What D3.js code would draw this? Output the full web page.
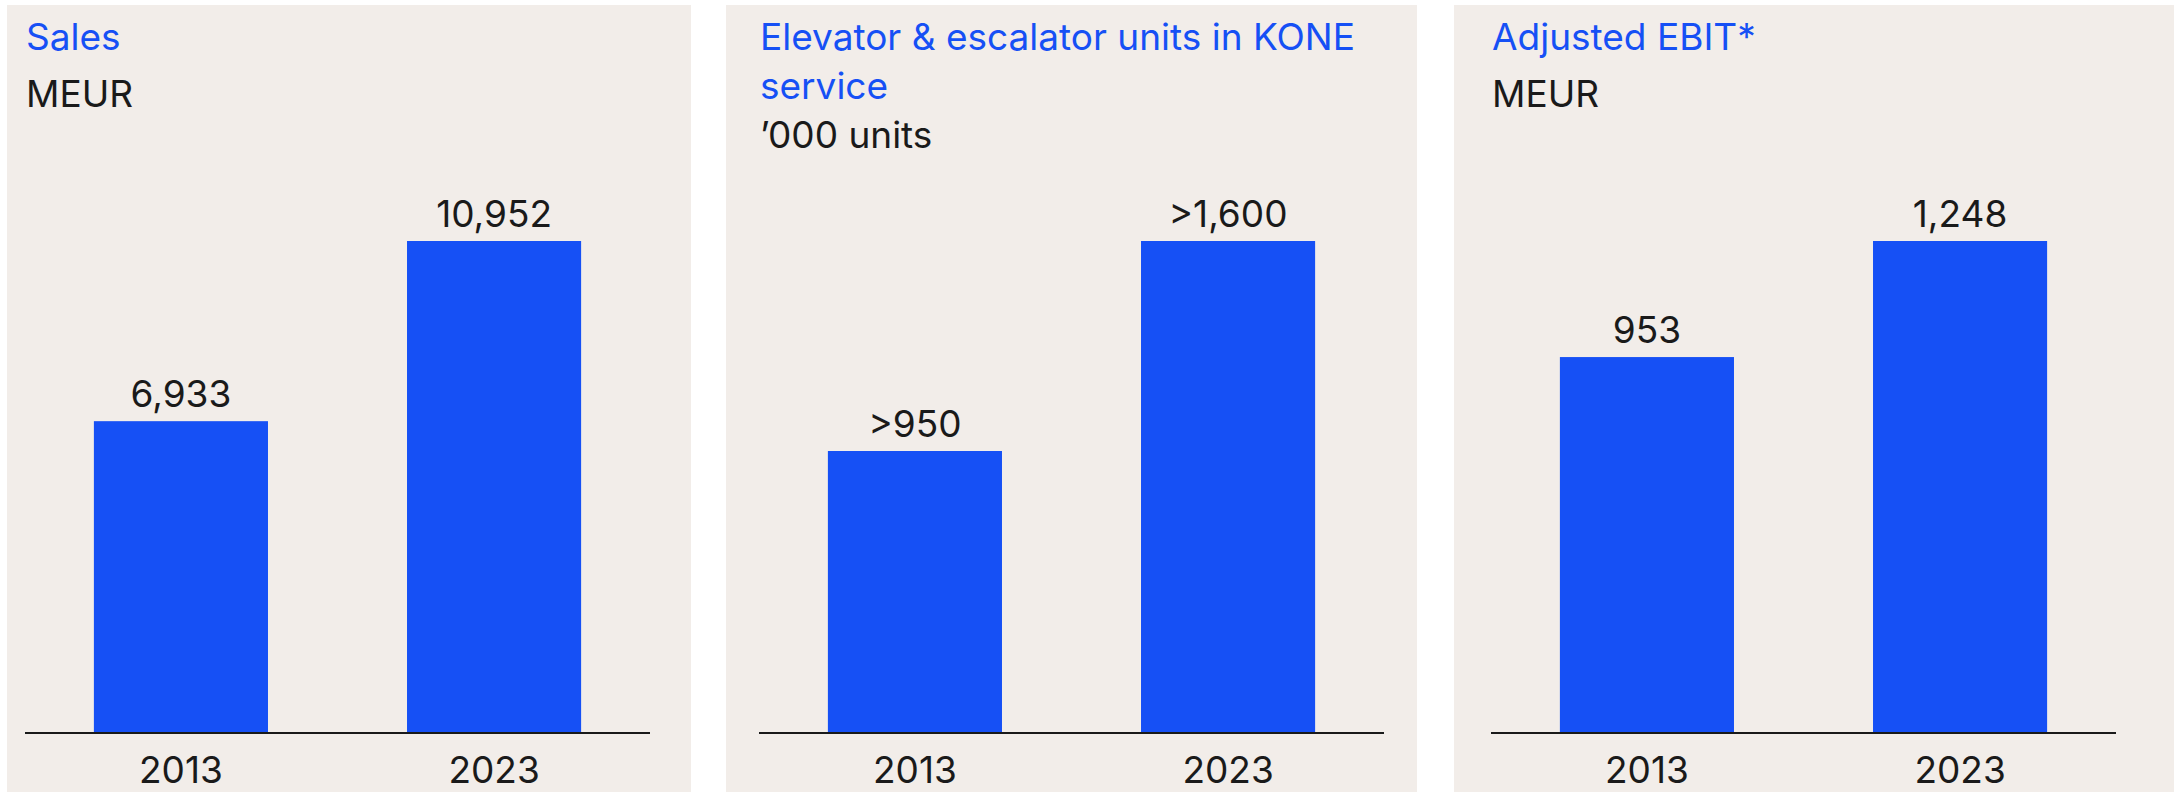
<!DOCTYPE html>
<html>
<head>
<meta charset="utf-8">
<script src="https://cdn.jsdelivr.net/npm/d3@7"></script>
<style>
  html, body { margin: 0; padding: 0; background: #ffffff; }
  svg { display: block; }
  text { font-family: Inter, "Noto Sans", sans-serif; }
</style>
</head>
<body>
<svg id="chart" width="2174" height="792"></svg>
<script>
// ---- data ----
const categories = ["2013", "2023"];

const salesValues = [6933, 10952];
const salesLabels = ["6,933", "10,952"];
const salesTitle = ["Sales"];
const salesUnit = "MEUR";

const unitsValues = [950, 1660];
const unitsLabels = [">950", ">1,600"];
const unitsTitle = ["Elevator & escalator units in KONE", "service"];
const unitsUnit = "\u2019000 units";

const ebitValues = [953, 1248];
const ebitLabels = ["953", "1,248"];
const ebitTitle = ["Adjusted EBIT*"];
const ebitUnit = "MEUR";

// ---- layout ----
const BLUE = "#1650f5";
const BG = "#f2ede9";
const INK = "#1a1a1a";
const FS = 37;

const panels = [
  { values: salesValues, labels: salesLabels, title: salesTitle, unit: salesUnit,
    bgX: 7, bgW: 684, x0: 25, unitGap: 57 },
  { values: unitsValues, labels: unitsLabels, title: unitsTitle, unit: unitsUnit,
    bgX: 726, bgW: 691, x0: 759, unitGap: 49 },
  { values: ebitValues, labels: ebitLabels, title: ebitTitle, unit: ebitUnit,
    bgX: 1454, bgW: 720, x0: 1491, unitGap: 57 }
];

const svg = d3.select("#chart");
const plotW = 625;
const axisY = 732;
const topY = 241;

panels.forEach(p => {
  const g = svg.append("g");
  g.append("rect")
    .attr("x", p.bgX).attr("y", 5)
    .attr("width", p.bgW).attr("height", 792 - 5)
    .attr("fill", BG);

  // title
  const titleBase = 50;
  p.title.forEach((line, i) => {
    g.append("text")
      .attr("x", p.x0 + 1).attr("y", titleBase + i * 49)
      .attr("fill", BLUE).attr("font-size", FS)
      .text(line);
  });
  g.append("text")
    .attr("x", p.x0 + 1)
    .attr("y", titleBase + (p.title.length - 1) * 49 + p.unitGap)
    .attr("fill", INK).attr("font-size", FS)
    .text(p.unit);

  const x = d3.scaleBand()
    .domain(categories)
    .range([p.x0, p.x0 + plotW])
    .paddingInner(0.444)
    .paddingOuter(0.22);
  const y = d3.scaleLinear()
    .domain([0, d3.max(p.values)])
    .range([axisY, topY]);

  const data = categories.map((c, i) => ({ c, v: p.values[i], l: p.labels[i] }));

  g.selectAll("rect.bar").data(data).join("rect")
    .attr("class", "bar")
    .attr("x", d => x(d.c))
    .attr("width", x.bandwidth())
    .attr("y", d => y(d.v))
    .attr("height", d => axisY - y(d.v))
    .attr("fill", BLUE);

  g.selectAll("text.val").data(data).join("text")
    .attr("class", "val")
    .attr("x", d => x(d.c) + x.bandwidth() / 2)
    .attr("y", d => y(d.v) - 14.5)
    .attr("text-anchor", "middle")
    .attr("fill", INK).attr("font-size", FS)
    .text(d => d.l);

  // axis
  const axis = d3.axisBottom(x).tickSize(0).tickPadding(0);
  const ag = g.append("g").attr("transform", `translate(0,${axisY + 1})`).call(axis);
  ag.select(".domain").attr("stroke", INK).attr("stroke-width", 2)
    .attr("d", `M${p.x0},0H${p.x0 + plotW}`);
  ag.selectAll(".tick text")
    .attr("font-family", "Inter, 'Noto Sans', sans-serif")
    .attr("font-size", FS).attr("fill", INK)
    .attr("dy", null)
    .attr("y", 50);
});
</script>
</body>
</html>
